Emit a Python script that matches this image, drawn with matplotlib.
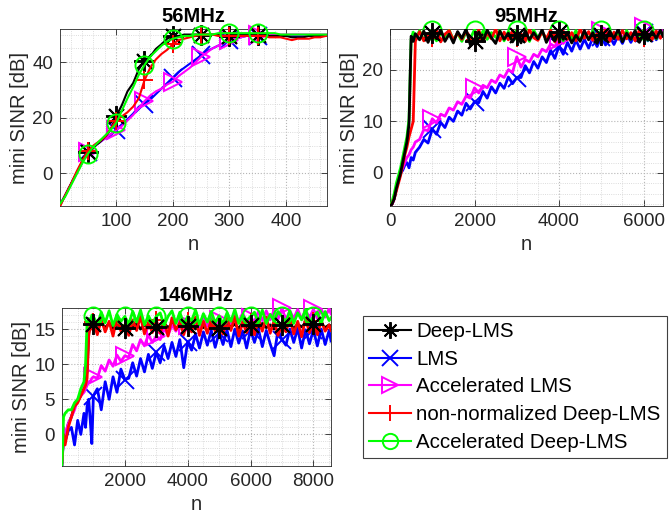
import matplotlib.pyplot as plt
import numpy as np
from matplotlib.lines import Line2D
from matplotlib.ticker import MultipleLocator

plt.rcParams['font.family'] = ['Liberation Sans', 'DejaVu Sans']

labels = ['Deep-LMS', 'LMS', 'Accelerated LMS', 'non-normalized Deep-LMS', 'Accelerated Deep-LMS']
colors = ['#000000', '#0000ff', '#ff00ff', '#ff0000', '#00ff00']
markers = [(8, 2, 0), 'x', '>', '+', 'o']

# ---- 56MHz ----
x1 = np.array([1] + list(range(10, 471, 10)) + [475])
deep1 = [-11.5, -8, -4, 0, 4, 7.5, 9.5, 11, 13, 15.5,
         20.5, 24.5, 29.5, 32.5, 37.5, 40.5, 42, 44.8, 46.5, 48.5,
         49.5, 49.5, 50, 50, 50, 50, 50, 50, 50, 49.5,
         49.5, 50, 50, 50, 50, 50, 49.5, 49.5, 49.5, 49.5,
         49.5, 49, 49, 49, 49.5, 49.5, 49.5, 49.5, 49.5]
lms1 = [-11.5, -8, -4, 0, 4, 7.5, 9.5, 11, 12.5, 14,
        15.5, 17.5, 19.5, 21.5, 24, 25, 26.5, 28.5, 30.5, 32.5,
        34.5, 36.5, 38, 39.5, 41, 42.5, 44, 45, 46, 47,
        48, 48.5, 49, 49.5, 49.5, 49.5, 49.5, 49.5, 49.5, 49.5,
        49.5, 49.5, 49.5, 49.5, 49.5, 49.5, 49.5, 49.5, 49.5]
acclms1 = [-11.5, -8, -4, 0, 4, 7.5, 9.5, 11, 12.5, 14,
           15.5, 17, 19, 21, 23.5, 26, 28, 29.5, 30.5, 32,
           33, 35, 36.5, 38, 40, 42, 43.5, 45, 46, 47,
           48, 48.5, 49, 49.5, 49.5, 50, 50, 50, 50, 50,
           50, 50, 50, 50, 50, 50, 50, 50, 50]
nonnorm1 = [-12, -8, -4, 0.5, 4.5, 8, 10, 11.5, 13, 16,
            19, 20.5, 22, 24, 27, 33.5, 38, 41, 43, 44.5,
            46.5, 48, 48.5, 49, 49.5, 50, 50, 50, 49.5, 49.5,
            49.5, 49.5, 49.5, 49.5, 49.5, 49.5, 49.5, 49, 49, 49,
            48.5, 48, 48.5, 48.5, 48.5, 49, 49, 49.5, 49.5]
accdeep1 = [-11, -8.5, -4.5, -0.5, 3.5, 7, 9.5, 11.5, 13.5, 15.5,
            18, 22.5, 27, 31, 35.5, 39, 42, 44, 46, 47.5,
            48.5, 49, 49.5, 49.5, 50, 50, 50, 50, 50.5, 50.5,
            50.5, 50.5, 50.5, 50.5, 50.5, 50.5, 50.5, 50.5, 50.5, 50,
            50, 50, 50, 50, 50, 50, 50, 50, 50]

# ---- 95MHz ----
x2 = np.array([1, 50, 100, 150, 200, 250, 300, 350, 400, 450, 500, 550, 600]
              + list(range(700, 6401, 100)) + [6460])
deep2 = [-6.5, -6.0, -5.0, -3.0, -1.5, 0.0, 2.0, 4.0, 6.0, 9.5, 26.5, 25.5, 27.0,
         25.8, 27.5, 25.3, 27.2, 26.0, 27.8, 25.5, 26.9, 25.2, 27.4,
         26.1, 27.9, 24.8, 25.5, 27.3, 25.6, 27.7, 26.2, 25.1, 27.5,
         25.9, 27.1, 25.4, 26.8, 25.2, 27.6, 25.8, 27.2, 26.0, 27.8,
         25.3, 26.9, 25.6, 27.4, 25.9, 27.1, 25.2, 26.7, 25.5, 27.6,
         25.8, 27.2, 25.1, 26.8, 25.7, 27.5, 26.0, 27.9, 25.4, 27.1,
         25.9, 27.6, 25.3, 26.9, 25.8, 27.4, 26.1, 27.7,
         26.5]
lms2 = [-6.5, -6.0, -5.0, -3.0, -1.5, 0.0, 0.5, 1.5, 2.0, 1.0, 3.0, 2.5, 4.0,
        5.0, 6.5, 5.8, 8.5, 7.5, 9.8, 8.8, 10.8, 10.0, 12.0,
        11.2, 13.5, 12.4, 13.8, 13.6, 15.8, 14.5, 16.7, 15.5, 17.4,
        16.4, 18.6, 17.3, 18.5, 18.5, 20.8, 19.4, 21.6, 20.3, 22.5,
        21.4, 23.8, 22.2, 24.6, 23.0, 25.3, 23.6, 25.7, 24.0, 25.9,
        24.2, 26.2, 24.5, 26.4, 24.8, 26.5, 24.9, 26.7, 25.1, 27.0,
        25.3, 27.1, 25.5, 27.2, 25.6, 27.3, 25.8, 27.4,
        27.0]
acclms2 = [-6.5, -6.0, -5.0, -3.0, -1.5, 0.0, 1.0, 2.0, 3.0, 3.5, 4.5, 5.0, 6.0,
           6.5, 8.4, 8.2, 10.5, 9.7, 11.4, 11.0, 12.6, 12.2, 13.8,
           13.3, 14.9, 14.5, 16.5, 15.5, 17.0, 16.5, 18.0, 17.5, 19.0,
           18.5, 20.0, 19.5, 22.5, 20.5, 22.0, 21.5, 23.0, 22.5, 24.0,
           23.5, 25.0, 24.5, 25.8, 25.1, 26.3, 25.5, 26.6, 25.7, 26.8,
           25.9, 26.9, 26.0, 27.5, 26.1, 27.1, 26.2, 27.2, 26.3, 27.3,
           26.4, 27.4, 26.5, 28.3, 26.6, 27.6, 26.7, 27.7,
           27.5]
nonnorm2 = [-6.5, -6.0, -5.0, -3.5, -2.0, -0.5, 1.5, 3.5, 5.0, 7.0, 8.5, 10.0, 25.5,
            27.4, 25.6, 27.0, 26.2, 27.8, 25.4, 26.9, 27.6, 25.7, 27.2,
            25.9, 27.5, 26.3, 25.8, 27.7, 25.5, 27.1, 26.0, 27.9, 25.6,
            27.3, 25.8, 27.6, 26.1, 27.0, 25.5, 27.8, 26.2, 25.7, 27.4,
            26.0, 27.7, 25.4, 26.8, 27.5, 25.9, 27.2, 25.6, 27.9, 26.1,
            27.4, 25.7, 27.0, 26.3, 27.8, 25.5, 27.3, 25.9, 27.6, 26.0,
            27.2, 25.6, 27.7, 26.2, 27.0, 25.8, 27.5, 26.1,
            27.0]
accdeep2 = [-6.5, -5.5, -4.0, -2.0, -0.5, 1.0, 3.0, 5.0, 7.0, 10.5, 26.0, 27.3, 25.9,
            27.6, 25.7, 26.8, 27.8, 25.6, 27.4, 26.2, 27.7, 25.8, 27.1,
            25.5, 27.3, 26.0, 27.8, 25.7, 27.5, 25.9, 27.2, 26.3, 27.6,
            25.6, 27.4, 26.1, 27.8, 25.8, 27.0, 25.5, 27.7, 26.2, 27.3,
            25.9, 27.5, 26.0, 27.8, 25.6, 27.3, 26.1, 27.6, 25.7, 27.2,
            26.0, 27.5, 25.8, 27.8, 25.9, 27.4, 26.2, 27.1, 25.6, 27.6,
            25.9, 27.3, 26.1, 27.8, 25.7, 27.5, 26.0, 27.4,
            26.8]

# ---- 146MHz ----
x3 = np.array([1, 50, 100, 200, 300, 400, 500, 600, 700, 750, 800, 850, 900, 950, 1000]
              + list(range(1125, 8501, 125)) + [8560])
deep3 = [-4.0, 0.0, -1.0, 1.5, 2.5, 4.0, 4.8, 5.5, 6.5, 7.5, 9.0, 14.5, 15.5, 15.2, 15.7,
         15.0, 15.9, 15.2, 15.8, 15.1, 15.6, 15.3, 15.2,
         15.7, 15.1, 15.8, 15.0, 15.6, 15.2, 15.9, 15.3,
         15.1, 15.8, 15.2, 15.7, 15.0, 15.6, 15.1, 15.5,
         15.8, 15.0, 15.7, 15.2, 15.9, 15.1, 15.6, 15.2,
         15.0, 15.8, 15.3, 15.7, 15.1, 15.9, 15.2, 15.6,
         15.7, 15.1, 15.8, 15.2, 15.6, 15.0, 15.9, 15.6,
         15.2, 15.8, 15.1, 15.7, 15.3, 15.9, 15.2, 15.7,
         15.1, 15.8, 15.2, 15.6,
         15.4]
lms3 = [-4.5, 0.0, -1.0, 0.5, 1.0, -1.5, 2.0, 0.0, 3.0, 1.0, 4.0, 5.0, 2.0, -1.3, 5.5,
        6.5, 3.5, 7.5, 5.0, 8.2, 6.0, 9.3, 7.8,
        8.0, 10.2, 8.3, 10.8, 8.9, 11.4, 9.4, 11.7,
        10.2, 12.6, 10.8, 13.1, 11.1, 13.5, 9.5, 13.2,
        12.0, 14.3, 12.3, 14.6, 12.7, 14.8, 12.4, 14.5,
        12.8, 14.9, 12.5, 15.0, 13.0, 14.7, 12.3, 14.9,
        13.1, 15.0, 12.5, 14.8, 12.9, 11.2, 14.9, 13.5,
        12.7, 15.0, 13.1, 15.1, 12.3, 14.9, 12.9, 14.9,
        12.6, 15.0, 12.8, 14.8,
        13.3]
acclms3 = [-4.5, 1.0, 0.0, 1.5, 2.5, 3.5, 5.0, 5.5, 6.0, 6.5, 7.0, 7.5, 7.5, 8.0, 8.2,
           8.0, 9.8, 9.0, 10.6, 9.7, 11.3, 10.4, 11.2,
           11.0, 12.8, 11.9, 13.5, 12.6, 14.2, 13.1, 14.0,
           13.5, 15.1, 14.1, 15.6, 14.7, 16.1, 15.0, 15.6,
           14.9, 16.5, 15.2, 16.7, 15.4, 16.8, 15.5, 16.3,
           15.6, 17.1, 15.8, 17.2, 16.0, 17.3, 15.9, 16.6,
           16.1, 17.5, 16.2, 17.6, 16.3, 17.7, 16.4, 18.0,
           16.3, 17.6, 16.5, 17.8, 16.4, 17.7, 16.6, 17.8,
           16.5, 17.8, 16.7, 17.9,
           17.2]
nonnorm3 = [-4.0, 0.0, -1.5, 1.0, 2.5, 4.0, 4.5, 5.5, 6.5, 7.0, 8.0, 14.0, 15.5, 15.0, 16.0,
            14.2, 16.4, 14.6, 16.1, 14.0, 16.7, 14.7, 15.6,
            14.1, 16.3, 14.8, 16.8, 14.3, 16.0, 14.5, 16.3,
            14.4, 16.2, 14.0, 16.6, 14.9, 15.9, 14.2, 16.2,
            14.6, 16.7, 14.1, 16.1, 14.4, 16.3, 14.7, 15.5,
            14.3, 16.5, 14.8, 16.8, 14.0, 16.0, 14.5, 16.0,
            14.2, 16.4, 14.7, 16.7, 14.4, 16.2, 14.1, 15.7,
            14.6, 16.6, 14.3, 16.1, 13.9, 16.5, 14.5, 16.1,
            14.2, 16.2, 14.7, 15.6,
            14.8]
accdeep3 = [-4.5, 2.5, 3.0, 3.5, 3.5, 4.5, 5.0, 6.5, 7.5, 10.0, 16.0, 16.5, 16.0, 17.0, 16.8,
            15.6, 17.4, 15.9, 17.6, 15.5, 17.1, 16.1, 16.8,
            15.7, 17.5, 16.0, 17.7, 15.6, 16.9, 15.8, 16.8,
            17.3, 15.5, 16.8, 17.6, 15.8, 17.4, 15.7, 16.8,
            16.2, 17.7, 15.6, 17.2, 16.0, 17.5, 15.9, 16.9,
            15.7, 17.3, 16.1, 17.8, 15.8, 17.0, 16.2, 16.8,
            17.4, 15.9, 17.7, 15.8, 17.1, 16.1, 17.5, 16.8,
            16.0, 17.6, 15.8, 17.3, 16.3, 17.8, 15.9, 16.8,
            17.4, 15.8, 17.5, 16.2,
            16.6]


def plot_panel(ax, x, ys, marks, order, title, xlim, ylim, xticks, yticks, xminor, yminor,
               lw=1.5, top_marks=()):
    for i, k in enumerate(order):
        z = 2 + i
        ax.plot(x, ys[k], color=colors[k], lw=lw, zorder=z)
        ms = 15 if k == 0 else 13
        ax.plot(x[marks], np.array(ys[k])[marks], ls='none', marker=markers[k], ms=ms,
                mfc='none', mec=colors[k], mew=1.4, clip_on=False,
                zorder=20 if k in top_marks else z + 0.5)
    ax.set_xlim(xlim)
    ax.set_ylim(ylim)
    ax.set_xticks(xticks)
    ax.set_yticks(yticks)
    ax.xaxis.set_minor_locator(MultipleLocator(xminor))
    ax.yaxis.set_minor_locator(MultipleLocator(yminor))
    ax.grid(True, which='major', ls=':', color='#b5b5b5', lw=0.8)
    ax.grid(True, which='minor', ls=':', color='#d0d0d0', lw=0.6)
    ax.set_axisbelow(True)
    ax.tick_params(which='major', direction='in', top=True, right=True, length=4,
                   width=0.6, colors='#262626', labelsize=13.5, pad=5)
    ax.tick_params(which='minor', length=0)
    for s in ax.spines.values():
        s.set_color('#262626')
        s.set_linewidth(0.6)
    ax.set_title(title, fontsize=14.5, fontweight='bold', pad=5)
    ax.set_xlabel('n', fontsize=14.5, color='#262626')
    ax.set_ylabel('mini SINR [dB]', fontsize=14.5, color='#262626', labelpad=2)


fig = plt.figure(figsize=(6.7, 5.25), dpi=100)
ax1 = fig.add_axes([60 / 670, 1 - 206 / 525, 267 / 670, 177 / 525])
ax2 = fig.add_axes([390 / 670, 1 - 206 / 525, 273 / 670, 177 / 525])
ax3 = fig.add_axes([62 / 670, 1 - 466 / 525, 269 / 670, 158 / 525])

plot_panel(ax1, x1, [deep1, lms1, acclms1, nonnorm1, accdeep1], slice(5, 36, 5),
           [1, 2, 0, 3, 4], '56MHz', (1, 472), (-11.8, 52),
           [100, 200, 300, 400], [0, 20, 40], 20, 5)
plot_panel(ax2, x2, [deep2, lms2, acclms2, nonnorm2, accdeep2], slice(16, 67, 10),
           [1, 2, 4, 3, 0], '95MHz', (0, 6460), (-6.4, 27.9),
           [0, 2000, 4000, 6000], [0, 10, 20], 500, 2, lw=2.0)
plot_panel(ax3, x3, [deep3, lms3, acclms3, nonnorm3, accdeep3], slice(14, 71, 8),
           [0, 1, 2, 3, 4], '146MHz', (1, 8560), (-4.5, 18),
           [2000, 4000, 6000, 8000], [0, 5, 10, 15], 500, 1, lw=2.0, top_marks=(0,))

handles = [Line2D([], [], color=colors[k], lw=1.5, marker=markers[k],
                  ms=12 if k == 0 else 11, mfc='none', mew=1.4) for k in range(5)]
leg = fig.legend(handles, labels, loc='upper left', bbox_to_anchor=(363 / 670, 1 - 316 / 525),
                 bbox_transform=fig.transFigure, borderaxespad=0, fontsize=14.8,
                 fancybox=False, framealpha=1, edgecolor='#404040', borderpad=0.3,
                 labelspacing=0.42, handlelength=2.05, handletextpad=0.25)
leg.get_frame().set_linewidth(0.8)

fig.savefig('out.png', dpi=100)
